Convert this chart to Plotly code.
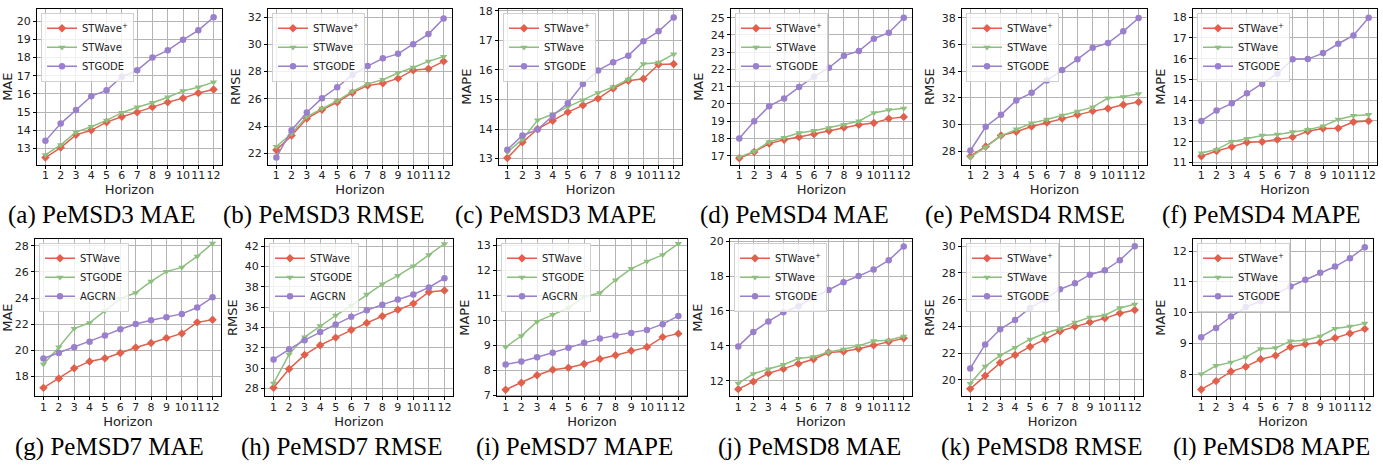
import plotly.graph_objects as go

horizon = list(range(1, 13))

# Row 1 (PeMSD3, PeMSD4): STWave+, STWave, STGODE
d3_mae_stwp = [12.5, 13.05, 13.75, 14.0, 14.45, 14.75, 15.0, 15.28, 15.55, 15.77, 16.05, 16.25]
d3_mae_stw = [12.65, 13.2, 13.9, 14.2, 14.55, 14.97, 15.27, 15.52, 15.82, 16.17, 16.37, 16.65]
d3_mae_stg = [13.42, 14.37, 15.12, 15.88, 16.2, 16.95, 17.3, 18.0, 18.4, 18.98, 19.5, 20.22]

d3_rmse_stwp = [22.25, 23.3, 24.55, 25.2, 25.75, 26.45, 26.97, 27.15, 27.5, 28.1, 28.2, 28.75]
d3_rmse_stw = [22.5, 23.45, 24.7, 25.3, 25.85, 26.55, 27.1, 27.4, 27.9, 28.3, 28.75, 29.1]
d3_rmse_stg = [21.7, 23.7, 25.0, 26.05, 26.85, 27.75, 28.4, 28.97, 29.3, 30.0, 30.75, 31.9]

d3_mape_stwp = [13.02, 13.55, 14.0, 14.28, 14.57, 14.8, 15.03, 15.37, 15.63, 15.7, 16.18, 16.2]
d3_mape_stw = [13.22, 13.65, 14.3, 14.5, 14.75, 14.98, 15.22, 15.42, 15.68, 16.2, 16.25, 16.53]
d3_mape_stg = [13.3, 13.78, 13.98, 14.45, 14.87, 15.52, 15.98, 16.26, 16.48, 16.97, 17.3, 17.77]

d4_mae_stwp = [16.85, 17.22, 17.7, 17.92, 18.08, 18.25, 18.45, 18.63, 18.8, 18.9, 19.15, 19.25]
d4_mae_stw = [16.92, 17.25, 17.8, 18.05, 18.32, 18.45, 18.62, 18.8, 19.0, 19.48, 19.65, 19.75]
d4_mae_stg = [18.0, 19.0, 19.87, 20.32, 20.98, 21.58, 22.1, 22.8, 23.07, 23.78, 24.13, 25.0]

d4_rmse_stwp = [27.62, 28.35, 29.18, 29.45, 29.85, 30.15, 30.45, 30.73, 31.0, 31.2, 31.48, 31.68]
d4_rmse_stw = [27.55, 28.3, 29.15, 29.65, 30.1, 30.38, 30.68, 30.98, 31.3, 31.98, 32.07, 32.3]
d4_rmse_stg = [28.05, 29.83, 30.72, 31.8, 32.37, 33.3, 34.08, 34.88, 35.75, 36.1, 36.98, 37.98]

d4_mape_stwp = [11.3, 11.55, 11.75, 11.97, 12.0, 12.1, 12.22, 12.5, 12.63, 12.65, 12.95, 13.0]
d4_mape_stw = [11.45, 11.62, 12.0, 12.15, 12.3, 12.35, 12.47, 12.58, 12.75, 13.07, 13.25, 13.3]
d4_mape_stg = [13.0, 13.5, 13.85, 14.33, 14.78, 15.28, 15.97, 15.98, 16.27, 16.72, 17.12, 17.97]

# PeMSD7: STWave, STGODE, AGCRN
d7_mae_stw = [17.1, 17.82, 18.6, 19.13, 19.38, 19.78, 20.2, 20.55, 20.93, 21.28, 22.13, 22.33]
d7_mae_stg = [18.92, 20.22, 21.65, 22.1, 23.02, 23.95, 24.4, 25.28, 26.03, 26.35, 27.2, 28.2]
d7_mae_agc = [19.35, 19.78, 20.22, 20.65, 21.13, 21.6, 22.0, 22.3, 22.53, 22.78, 23.27, 24.05]

d7_rmse_stw = [28.05, 29.9, 31.3, 32.25, 33.0, 33.75, 34.45, 35.1, 35.75, 36.35, 37.5, 37.65]
d7_rmse_stg = [28.5, 31.35, 33.05, 34.15, 35.18, 36.15, 37.25, 38.28, 39.1, 40.05, 41.15, 42.25]
d7_rmse_agc = [30.85, 31.85, 32.75, 33.55, 34.3, 35.05, 35.7, 36.25, 36.75, 37.25, 37.95, 38.85]

d7_mape_stw = [7.22, 7.5, 7.8, 8.02, 8.1, 8.25, 8.45, 8.6, 8.78, 8.93, 9.33, 9.47]
d7_mape_stg = [8.93, 9.38, 9.95, 10.23, 10.5, 10.95, 11.1, 11.62, 12.08, 12.37, 12.63, 13.08]
d7_mape_agc = [8.23, 8.35, 8.52, 8.7, 8.9, 9.1, 9.27, 9.4, 9.5, 9.62, 9.85, 10.18]

# PeMSD8: STWave+, STWave, STGODE
d8_mae_stwp = [11.52, 11.95, 12.43, 12.68, 12.98, 13.23, 13.62, 13.68, 13.83, 14.03, 14.23, 14.43]
d8_mae_stw = [11.85, 12.4, 12.67, 12.92, 13.27, 13.37, 13.65, 13.8, 14.0, 14.28, 14.32, 14.55]
d8_mae_stg = [13.97, 14.8, 15.4, 15.92, 16.27, 16.78, 17.2, 17.65, 18.0, 18.38, 18.9, 19.7]

d8_rmse_stwp = [19.32, 20.3, 21.27, 21.85, 22.48, 23.02, 23.63, 23.98, 24.3, 24.6, 24.98, 25.23]
d8_rmse_stw = [19.72, 21.0, 21.82, 22.4, 23.02, 23.48, 23.82, 24.3, 24.68, 24.83, 25.38, 25.65]
d8_rmse_stg = [20.85, 22.65, 23.78, 24.48, 25.38, 26.02, 26.78, 27.22, 27.87, 28.2, 28.95, 30.0]

d8_mape_stwp = [7.5, 7.77, 8.08, 8.24, 8.48, 8.6, 8.88, 8.97, 9.03, 9.17, 9.32, 9.47]
d8_mape_stw = [8.0, 8.27, 8.38, 8.55, 8.82, 8.85, 9.07, 9.1, 9.23, 9.48, 9.55, 9.65]
d8_mape_stg = [9.2, 9.5, 9.87, 10.18, 10.38, 10.6, 10.85, 11.07, 11.3, 11.5, 11.77, 12.13]

names_a = ["STWave<sup>+</sup>", "STWave", "STGODE"]
names_b = ["STWave", "STGODE", "AGCRN"]

captions = ["(a) PeMSD3 MAE", "(b) PeMSD3 RMSE", "(c) PeMSD3 MAPE",
            "(d) PeMSD4 MAE", "(e) PeMSD4 RMSE", "(f) PeMSD4 MAPE",
            "(g) PeMSD7 MAE", "(h) PeMSD7 RMSE", "(i) PeMSD7 MAPE",
            "(j) PeMSD8 MAE", "(k) PeMSD8 RMSE", "(l) PeMSD8 MAPE"]
ytitles = ["MAE", "RMSE", "MAPE"] * 4

panels = [
    (names_a, [d3_mae_stwp, d3_mae_stw, d3_mae_stg]),
    (names_a, [d3_rmse_stwp, d3_rmse_stw, d3_rmse_stg]),
    (names_a, [d3_mape_stwp, d3_mape_stw, d3_mape_stg]),
    (names_a, [d4_mae_stwp, d4_mae_stw, d4_mae_stg]),
    (names_a, [d4_rmse_stwp, d4_rmse_stw, d4_rmse_stg]),
    (names_a, [d4_mape_stwp, d4_mape_stw, d4_mape_stg]),
    (names_b, [d7_mae_stw, d7_mae_stg, d7_mae_agc]),
    (names_b, [d7_rmse_stw, d7_rmse_stg, d7_rmse_agc]),
    (names_b, [d7_mape_stw, d7_mape_stg, d7_mape_agc]),
    (names_a, [d8_mae_stwp, d8_mae_stw, d8_mae_stg]),
    (names_a, [d8_rmse_stwp, d8_rmse_stw, d8_rmse_stg]),
    (names_a, [d8_mape_stwp, d8_mape_stw, d8_mape_stg]),
]

yranges = [(12.12, 20.68), (21.18, 32.6), (12.8, 18.06), (16.49, 25.51), (27.0, 38.66), (10.9, 18.4),
           (16.44, 28.54), (27.2, 42.73), (6.95, 13.27), (11.1, 20.13), (18.75, 30.55), (7.27, 12.4)]
ydticks = [1, 2, 1, 1, 2, 1, 2, 2, 1, 2, 2, 1]

# pixel layout
W, H = 1383, 470
xpix = [(37, 222), (268, 452), (499, 682), (731, 912), (962, 1147), (1193, 1377),
        (35, 221), (265, 453), (497, 687), (730, 912), (962, 1143), (1193, 1373)]
ypix_rows = [(5, 164), (240, 401)]
cap_x = [102, 323, 555, 794, 1025, 1261, 110, 341, 574, 809, 1041, 1271]
cap_y = [216, 453]

colors = ["#E0604C", "#8DBF7E", "#9A80CC"]
symbols = ["diamond", "triangle-down", "circle"]

fig = go.Figure()
layout = dict(width=W, height=H, margin=dict(l=0, r=0, t=0, b=0),
              paper_bgcolor="white", plot_bgcolor="white", showlegend=True,
              font=dict(family="DejaVu Sans", color="#222"))
annotations = []

for i, (names, series) in enumerate(panels):
    n = i + 1
    sfx = "" if n == 1 else str(n)
    row = 0 if i < 6 else 1
    x0, x1 = xpix[i]
    t, b = ypix_rows[row]
    legname = "legend" + sfx
    for k in range(3):
        fig.add_trace(go.Scatter(
            x=horizon, y=series[k], name=names[k], mode="lines+markers",
            line=dict(color=colors[k], width=1.5),
            marker=dict(color=colors[k], symbol=symbols[k], size=6.5),
            xaxis="x" + sfx, yaxis="y" + sfx, legend=legname))
    axcommon = dict(showline=True, linecolor="black", linewidth=1, mirror=True,
                    showgrid=True, gridcolor="#b4b4b4", gridwidth=1,
                    ticks="outside", ticklen=3, tickcolor="black", zeroline=False,
                    tickfont=dict(size=11, color="#222"))
    layout["xaxis" + sfx] = dict(axcommon, domain=[x0 / W, x1 / W], anchor="y" + sfx,
                                 range=[0.45, 12.55], tickmode="array", tickvals=horizon,
                                 ticktext=[str(h) for h in horizon], tickangle=0,
                                 ticklabelstandoff=-3,
                                 title=dict(text="Horizon", font=dict(size=13), standoff=0))
    layout["yaxis" + sfx] = dict(axcommon, domain=[1 - b / H, 1 - t / H], anchor="x" + sfx,
                                 range=list(yranges[i]), dtick=ydticks[i], tick0=0,
                                 title=dict(text=ytitles[i], font=dict(size=13), standoff=4))
    layout[legname] = dict(x=(x0 + 4) / W, y=1 - (t + 4) / H, xanchor="left", yanchor="top",
                           bgcolor="rgba(255,255,255,0.8)", bordercolor="#d0d0d0", borderwidth=1,
                           font=dict(size=10, color="#222"), itemwidth=30, tracegroupgap=0)
    annotations.append(dict(text=captions[i], x=cap_x[i] / W, y=1 - cap_y[row] / H,
                            xref="paper", yref="paper", showarrow=False,
                            xanchor="center", yanchor="middle",
                            font=dict(family="Liberation Serif", size=25, color="black")))

layout["annotations"] = annotations
fig.update_layout(**layout)
fig.write_html("out.html")
